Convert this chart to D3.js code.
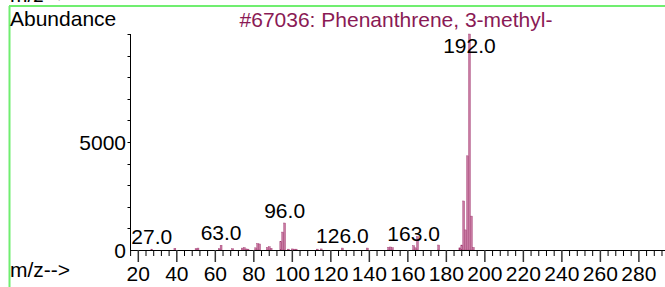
<!DOCTYPE html>
<html>
<head>
<meta charset="utf-8">
<script src="https://cdn.jsdelivr.net/npm/d3@7"></script>
<style>
  body { margin: 0; background: #fff; }
  text { font-family: "Liberation Sans", Arial, sans-serif; font-size: 21px; }
</style>
</head>
<body>
<script>
// spectrum peaks (m/z, abundance)
const mzValues = [27, 39, 50, 51, 62, 63, 69, 74, 75, 76, 77, 81, 82, 83, 87, 88, 89,
  94, 95, 96, 98, 100, 101, 102, 113, 115, 126, 139, 150, 151, 152, 163, 164, 165,
  176, 187, 188, 189, 190, 191, 192, 193, 194];
const abundances = [40, 80, 60, 90, 60, 220, 60, 90, 110, 50, 40, 100, 300, 280, 120, 150, 80,
  380, 830, 1250, 40, 50, 40, 40, 40, 50, 90, 90, 130, 140, 110, 200, 100, 620,
  230, 100, 230, 2270, 930, 4360, 9999, 1570, 120];
const labelledPeaks = [27, 63, 96, 126, 163, 192];
const xTicks = [20, 40, 60, 80, 100, 120, 140, 160, 180, 200, 220, 240, 260, 280];
const yTicks = [0, 5000];
const title = '#67036: Phenanthrene, 3-methyl-';

const width = 665, height = 287;
const svg = d3.select('body').append('svg')
  .attr('width', width).attr('height', height);

const x = d3.scaleLinear().domain([16, 294.6]).range([130.6, 667]);
const y = d3.scaleLinear().domain([0, 10000]).range([250, 34]);

// green frame
svg.append('line').attr('x1', 9).attr('x2', width).attr('y1', 6).attr('y2', 6)
  .attr('stroke', '#70ee70').attr('stroke-width', 2);
svg.append('line').attr('x1', 9.5).attr('x2', 9.5).attr('y1', 6).attr('y2', height)
  .attr('stroke', '#70ee70').attr('stroke-width', 2);

// cut off label of the panel above
svg.append('text').attr('x', 10).attr('y', 2).text('m/z-->');
svg.append('text').attr('x', 10).attr('y', 26).text('Abundance');
svg.append('text').attr('x', 10).attr('y', 277).text('m/z-->');

svg.append('text').attr('x', 396).attr('y', 27).attr('text-anchor', 'middle')
  .attr('fill', '#8a1a55').text(title);

// bars
const peaks = mzValues.map((m, i) => ({ mz: m, v: abundances[i] }));
svg.append('g').selectAll('rect').data(peaks).join('rect')
  .attr('x', d => x(d.mz) - 0.95)
  .attr('width', 1.9)
  .attr('y', d => y(d.v))
  .attr('height', d => y(0) - y(d.v))
  .attr('fill', '#c87aa2')
  .attr('stroke', '#a0386f')
  .attr('stroke-width', 0.4);

// y axis
const yAxis = svg.append('g');
yAxis.append('line').attr('x1', 130.5).attr('x2', 130.5).attr('y1', 34).attr('y2', 250)
  .attr('stroke', '#000');
yAxis.selectAll('line.minor').data(d3.range(1000, 10001, 1000)).join('line')
  .attr('class', 'minor')
  .attr('x1', 127.5).attr('x2', 130.5)
  .attr('y1', d => Math.round(y(d)) + 0.5).attr('y2', d => Math.round(y(d)) + 0.5)
  .attr('stroke', '#000');
yAxis.selectAll('text').data(yTicks).join('text')
  .attr('x', 126).attr('y', d => y(d) + 7.5)
  .attr('text-anchor', 'end')
  .text(d => d);

// x axis
const xAxis = svg.append('g');
xAxis.append('line').attr('x1', 130).attr('x2', width).attr('y1', 250.5).attr('y2', 250.5)
  .attr('stroke', '#000');
xAxis.selectAll('line.minor').data(d3.range(16, 295, 4)).join('line')
  .attr('class', 'minor')
  .attr('x1', d => x(d)).attr('x2', d => x(d))
  .attr('y1', 250).attr('y2', d => d % 20 === 0 ? 262 : 256)
  .attr('stroke', d => d % 20 === 0 ? '#333' : '#000')
  .attr('stroke-width', d => d % 20 === 0 ? 1.5 : 1);
xAxis.selectAll('text').data(xTicks).join('text')
  .attr('x', d => x(d)).attr('y', 281)
  .attr('text-anchor', 'middle')
  .text(d => d);

// peak labels
svg.append('g').selectAll('text').data(peaks.filter(p => labelledPeaks.includes(p.mz))).join('text')
  .attr('x', d => x(d.mz))
  .attr('y', d => Math.max(y(d.v) - 5, 53))
  .attr('text-anchor', 'middle')
  .text(d => d.mz.toFixed(1));
</script>
</body>
</html>
